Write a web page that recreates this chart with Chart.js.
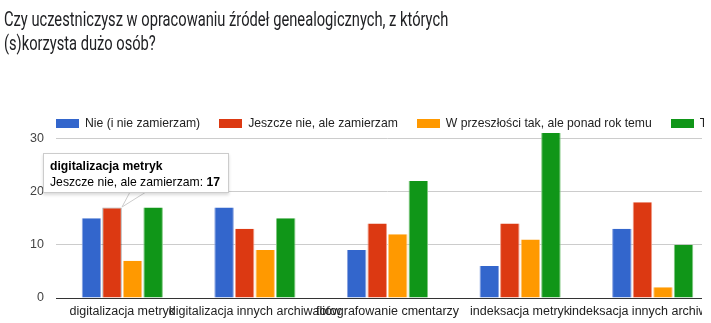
<!DOCTYPE html>
<html>
<head>
<meta charset="utf-8">
<script src="https://cdn.jsdelivr.net/npm/chart.js@4/dist/chart.umd.min.js"></script>
<style>
  html, body { margin: 0; padding: 0; background: #fff; }
  #wrap { position: relative; width: 711px; height: 323px; overflow: hidden; }
  #title {
    position: absolute; left: 4px; top: 7px; white-space: nowrap;
    font-family: Roboto, sans-serif; font-size: 20px; line-height: 24px; color: #202124;
    transform-origin: left top;
  }
  #legend {
    position: absolute; left: 56px; top: 116px; width: 648px; overflow: hidden;
    white-space: nowrap; font-family: "Liberation Sans", Arial, sans-serif; font-size: 12.2px; color: #222;
  }
  .item { display: inline-flex; align-items: center; margin-right: 19px; }
  .sw { display: inline-block; width: 23px; height: 9px; margin-right: 6px; }
  #plot { position: absolute; left: 0; top: 0; width: 702px; height: 323px; overflow: hidden; }
  canvas { position: absolute; left: 0; top: 0; }
  #tip {
    position: absolute; display: none; background: #fff; border: 1px solid #ccc;
    box-shadow: 0 2px 3px rgba(0,0,0,0.15); padding: 4px 8px 2px 6px;
    font-family: "Liberation Sans", Arial, sans-serif; font-size: 12.2px; color: #000; line-height: 16px; white-space: nowrap;
  }
  #caret { position: absolute; display: none; }
</style>
</head>
<body>
<div id="wrap">
  <div id="plot"><canvas id="chart" width="719" height="323"></canvas></div>
  <div id="title">Czy uczestniczysz w opracowaniu źródeł genealogicznych, z których<br>(s)korzysta dużo osób?</div>
  <div id="legend"></div>
  <svg id="caret" width="40" height="24"></svg>
  <div id="tip"></div>
</div>
<script>
// Categories and answer series
const categories = [
  "digitalizacja metryk",
  "digitalizacja innych archiwaliów",
  "fotografowanie cmentarzy",
  "indeksacja metryk",
  "indeksacja innych archiwaliów"
];
const seriesNames = [
  "Nie (i nie zamierzam)",
  "Jeszcze nie, ale zamierzam",
  "W przeszłości tak, ale ponad rok temu",
  "Tak, w ciągu ostatniego roku"
];
const nieValues = [15, 17, 9, 6, 13];
const jeszczeValues = [17, 13, 14, 14, 18];
const przeszloscValues = [7, 9, 12, 11, 2];
const takValues = [17, 15, 22, 31, 10];
const yTicks = [0, 10, 20, 30];

const colors = ["#3366cc", "#dc3912", "#ff9900", "#109618"];
const edgeColors = ["#8aa3e0", "#ef9a85", "#ffc880", "#80c880"];
const allValues = [nieValues, jeszczeValues, przeszloscValues, takValues];

// squeeze the title to the narrow look of the original
const titleEl = document.getElementById("title");
titleEl.style.transform = "scaleX(" + (444 / titleEl.scrollWidth).toFixed(3) + ")";

// html legend, clipped on the right like the original
const legendEl = document.getElementById("legend");
seriesNames.forEach((name, i) => {
    const it = document.createElement("span");
    it.className = "item";
    it.innerHTML = `<span class="sw" style="background:${colors[i]}"></span>${name}`;
    legendEl.appendChild(it);
});

function externalTip(context) {
    const tipEl = document.getElementById("tip");
    const caretEl = document.getElementById("caret");
    const tooltip = context.tooltip;
    if (!tooltip || tooltip.opacity === 0 || !tooltip.dataPoints || !tooltip.dataPoints.length) {
        tipEl.style.display = "none";
        caretEl.style.display = "none";
        return;
    }
    const dp = tooltip.dataPoints[0];
    tipEl.innerHTML = `<b>${dp.label}</b><br>${dp.dataset.label}: <b>${dp.raw}</b>`;
    tipEl.style.display = "block";
    const el = dp.element;
    const boxLeft = el.x - 69;
    const boxBottom = el.y - 15;
    tipEl.style.left = boxLeft + "px";
    tipEl.style.top = (boxBottom - tipEl.offsetHeight) + "px";
    // caret from box bottom down to the bar's top corner
    const cx = el.x + el.width / 2;
    caretEl.style.display = "block";
    caretEl.style.left = (cx - 2) + "px";
    caretEl.style.top = (boxBottom - 2) + "px";
    caretEl.innerHTML = '<polygon points="10,1 26,1 2,16" fill="#fff" stroke="#ccc" stroke-width="1"/>' +
        '<rect x="9" y="0" width="18" height="2" fill="#fff"/>';
}

const datasets = seriesNames.map((name, i) => ({
    label: name,
    data: allValues[i],
    backgroundColor: colors[i],
    hoverBackgroundColor: colors[i],
    borderColor: edgeColors[i],
    borderWidth: { left: 1, right: 1, top: 0, bottom: 0 },
    hoverBorderColor: "rgba(0,0,0,0.35)",
    hoverBorderWidth: 1,
    categoryPercentage: 0.62,
    barPercentage: 0.95
}));

const chart = new Chart(document.getElementById("chart"), {
    type: "bar",
    data: { labels: categories, datasets: datasets },
    options: {
        responsive: false,
        animation: false,
        devicePixelRatio: 1,
        layout: { padding: { top: 133, right: 0, left: 0, bottom: 0 } },
        plugins: {
            legend: { display: false },
            tooltip: { enabled: false, external: externalTip }
        },
        scales: {
            x: {
                grid: { display: false, drawTicks: false },
                border: { display: true, color: "#333", width: 1 },
                ticks: {
                    autoSkip: false, maxRotation: 0, minRotation: 0, padding: 6,
                    color: "#222", font: { family: "'Liberation Sans', Arial, sans-serif", size: 12.5 }
                },
                afterFit: (s) => {
                    s.height = 25;
                    s.paddingLeft = 0;
                    s.paddingRight = 0;
                }
            },
            y: {
                min: 0, max: 31,
                border: { display: false },
                grid: {
                    drawTicks: false,
                    color: (c) => (c.tick && c.tick.value === 0 ? "#333" : "#ccc")
                },
                ticks: {
                    padding: 12, color: "#444",
                    font: { family: "'Liberation Sans', Arial, sans-serif", size: 12.5 }
                },
                afterBuildTicks: (s) => { s.ticks = yTicks.map(v => ({ value: v })); },
                afterFit: (s) => { s.width = 56; }
            }
        }
    }
});

// show the same hovered bar as the original screenshot
const active = [{ datasetIndex: 1, index: 0 }];
chart.setActiveElements(active);
chart.tooltip.setActiveElements(active, { x: 0, y: 0 });
chart.update();
</script>
</body>
</html>
